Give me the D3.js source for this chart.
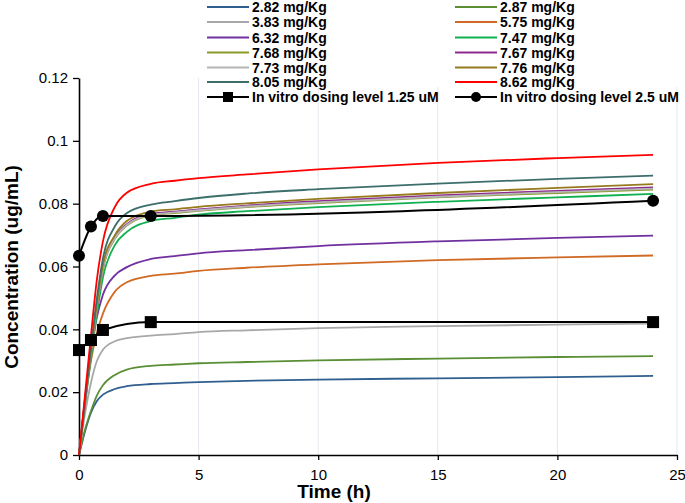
<!DOCTYPE html>
<html>
<head>
<meta charset="utf-8">
<script src="https://cdn.jsdelivr.net/npm/d3@7"></script>
<style>
html,body{margin:0;padding:0;background:#fff;}
svg{display:block;}
text{font-family:"Liberation Sans",Arial,sans-serif;}
</style>
</head>
<body>
<svg id="chart" width="685" height="503"></svg>
<script>
// ---- data ----
const times = [0, 0.25, 0.5, 0.75, 1, 1.5, 2, 3, 4, 5, 7, 10, 15, 20, 24];
const seriesNames = ["2.82 mg/Kg","2.87 mg/Kg","3.83 mg/Kg","5.75 mg/Kg","6.32 mg/Kg","7.47 mg/Kg","7.68 mg/Kg","7.67 mg/Kg","7.73 mg/Kg","7.76 mg/Kg","8.05 mg/Kg","8.62 mg/Kg"];
const seriesColors = ["#2f5f8f","#5a8f35","#a8a8a8","#d06a24","#7030a0","#10b050","#8c9a2a","#8e2a8e","#b4b4b4","#967a1e","#3c6e6a","#ff0000"];
const s282 = [0, 0.0075, 0.0135, 0.0172, 0.0192, 0.0210, 0.0219, 0.0226, 0.0229, 0.0232, 0.0236, 0.0240, 0.0244, 0.0248, 0.0252];
const s287 = [0, 0.0080, 0.0140, 0.0190, 0.0222, 0.0255, 0.0272, 0.0284, 0.0288, 0.0292, 0.0296, 0.0301, 0.0307, 0.0312, 0.0315];
const s383 = [0, 0.0130, 0.0230, 0.0300, 0.0335, 0.0362, 0.0372, 0.0380, 0.0385, 0.0391, 0.0397, 0.0404, 0.0410, 0.0415, 0.0418];
const s575 = [0, 0.0170, 0.0300, 0.0390, 0.0450, 0.0520, 0.0550, 0.0570, 0.0577, 0.0586, 0.0596, 0.0607, 0.0620, 0.0629, 0.0635];
const s632 = [0, 0.0180, 0.0330, 0.0440, 0.0510, 0.0572, 0.0598, 0.0624, 0.0633, 0.0642, 0.0652, 0.0665, 0.0680, 0.0691, 0.0698];
const s747 = [0, 0.0160, 0.0310, 0.0450, 0.0565, 0.0668, 0.0710, 0.0745, 0.0755, 0.0765, 0.0776, 0.0789, 0.0806, 0.0820, 0.0831];
const s768 = [0, 0.0165, 0.0325, 0.0470, 0.0590, 0.0688, 0.0730, 0.0762, 0.0770, 0.0777, 0.0789, 0.0802, 0.0820, 0.0834, 0.0845];
const s767 = [0, 0.0167, 0.0330, 0.0475, 0.0595, 0.0693, 0.0735, 0.0767, 0.0775, 0.0782, 0.0794, 0.0808, 0.0826, 0.0841, 0.0852];
const s773 = [0, 0.0166, 0.0328, 0.0472, 0.0593, 0.0690, 0.0732, 0.0764, 0.0772, 0.0779, 0.0791, 0.0804, 0.0822, 0.0837, 0.0848];
const s776 = [0, 0.0168, 0.0333, 0.0480, 0.0605, 0.0700, 0.0745, 0.0775, 0.0782, 0.0790, 0.0801, 0.0815, 0.0834, 0.0850, 0.0862];
const s805 = [0, 0.0170, 0.0340, 0.0500, 0.0625, 0.0728, 0.0770, 0.0797, 0.0808, 0.0818, 0.0832, 0.0846, 0.0864, 0.0879, 0.0889];
const s862 = [0, 0.0190, 0.0380, 0.0560, 0.0680, 0.0790, 0.0835, 0.0863, 0.0873, 0.0881, 0.0893, 0.0909, 0.0930, 0.0945, 0.0955];
const seriesValues = [s282, s287, s383, s575, s632, s747, s768, s767, s773, s776, s805, s862];

const vitroTimes = [0, 0.5, 1, 3, 24];
const vitro125 = [0.0334, 0.0366, 0.0398, 0.0423, 0.0423];
const vitro25 = [0.0634, 0.0727, 0.0761, 0.0761, 0.0809];
const vitroNames = ["In vitro dosing level 1.25 uM", "In vitro dosing level 2.5 uM"];

const xTicks = [0, 5, 10, 15, 20, 25];
const yTicks = [0, 0.02, 0.04, 0.06, 0.08, 0.1, 0.12];

// ---- chart ----
const svg = d3.select("#chart");
const x = d3.scaleLinear().domain([0, 25]).range([79, 677]);
const y = d3.scaleLinear().domain([0, 0.12]).range([455, 78]);

// gridlines
svg.append("g").selectAll("line").data(xTicks.slice(1)).join("line")
  .attr("x1", d => x(d)).attr("x2", d => x(d))
  .attr("y1", y(0.12)).attr("y2", y(0))
  .attr("stroke", "#e3e8ef").attr("stroke-width", 1);

// axes
const xAxis = d3.axisBottom(x).tickValues(xTicks).tickFormat(d3.format("d")).tickSize(5).tickSizeOuter(0);
const gx = svg.append("g").attr("transform", `translate(0,${y(0)})`).call(xAxis);
gx.select(".domain").attr("stroke", "#000").attr("stroke-width", 1.6);
gx.selectAll(".tick line").attr("stroke", "#000").attr("stroke-width", 1.3);
gx.selectAll(".tick text").attr("font-size", 15).attr("fill", "#000").attr("dy", "1.1em")
  .style("font-family", "'Liberation Sans', Arial, sans-serif");

const yAxis = d3.axisLeft(y).tickValues(yTicks).tickFormat(d => d === 0 ? "0" : String(+d.toFixed(2))).tickSize(6).tickSizeOuter(0);
const gy = svg.append("g").attr("transform", `translate(${x(0)},0)`).call(yAxis);
gy.select(".domain").attr("stroke", "#000").attr("stroke-width", 1.6);
gy.selectAll(".tick line").attr("stroke", "#000").attr("stroke-width", 1.3);
gy.selectAll(".tick text").attr("font-size", 15).attr("fill", "#000").attr("x", -11)
  .style("font-family", "'Liberation Sans', Arial, sans-serif");

// axis titles
svg.append("text").attr("x", 334).attr("y", 498).attr("text-anchor", "middle")
  .attr("font-size", 19).attr("font-weight", "bold").text("Time (h)");
svg.append("text").attr("transform", "translate(18,267) rotate(-90)").attr("text-anchor", "middle")
  .attr("font-size", 19).attr("font-weight", "bold").text("Concentration (ug/mL)");

// model curves
const line = d3.line().x(d => x(d[0])).y(d => y(d[1])).curve(d3.curveMonotoneX);
const plot = svg.append("g");
seriesValues.forEach((vals, i) => {
  plot.append("path").datum(times.map((t, j) => [t, vals[j]]))
    .attr("fill", "none").attr("stroke", seriesColors[i]).attr("stroke-width", 1.8)
    .attr("d", line);
});

// in vitro
const vline = d3.line().x(d => x(d[0])).y(d => y(d[1])).curve(d3.curveMonotoneX);
[vitro125, vitro25].forEach((vals, i) => {
  const pts = vitroTimes.map((t, j) => [t, vals[j]]);
  plot.append("path").datum(pts).attr("fill", "none").attr("stroke", "#000").attr("stroke-width", 2).attr("d", vline);
  if (i === 0) {
    plot.selectAll(null).data(pts).join("rect")
      .attr("x", d => x(d[0]) - 6).attr("y", d => y(d[1]) - 6)
      .attr("width", 12).attr("height", 12).attr("fill", "#000");
  } else {
    plot.selectAll(null).data(pts).join("circle")
      .attr("cx", d => x(d[0])).attr("cy", d => y(d[1])).attr("r", 6).attr("fill", "#000");
  }
});

// legend
const leg = svg.append("g");
leg.append("rect").attr("x", 200).attr("y", 0).attr("width", 485).attr("height", 87).attr("fill", "#fff");
const colX = [207, 455];
const rowY = [7, 22, 37.5, 52.5, 67.5, 82, 97];
seriesNames.forEach((name, i) => {
  const c = i % 2, r = Math.floor(i / 2);
  leg.append("line").attr("x1", colX[c]).attr("x2", colX[c] + 42)
    .attr("y1", rowY[r]).attr("y2", rowY[r]).attr("stroke", seriesColors[i]).attr("stroke-width", 2);
  leg.append("text").attr("x", colX[c] + 45).attr("y", rowY[r]).attr("dy", "0.36em")
    .attr("font-size", 14).attr("font-weight", "bold").text(name);
});
vitroNames.forEach((name, c) => {
  const yy = rowY[6];
  leg.append("line").attr("x1", colX[c]).attr("x2", colX[c] + 42)
    .attr("y1", yy).attr("y2", yy).attr("stroke", "#000").attr("stroke-width", 2);
  if (c === 0) {
    leg.append("rect").attr("x", colX[c] + 21 - 5).attr("y", yy - 5).attr("width", 10).attr("height", 10).attr("fill", "#000");
  } else {
    leg.append("circle").attr("cx", colX[c] + 21).attr("cy", yy).attr("r", 5).attr("fill", "#000");
  }
  leg.append("text").attr("x", colX[c] + 45).attr("y", yy).attr("dy", "0.36em")
    .attr("font-size", 14).attr("font-weight", "bold").text(name);
});
</script>
</body>
</html>
